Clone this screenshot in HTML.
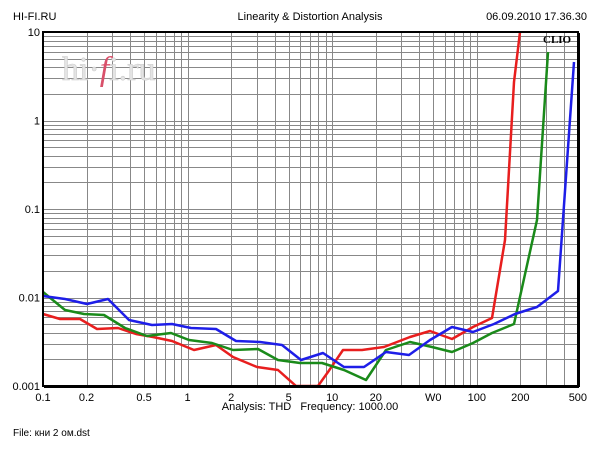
<!DOCTYPE html>
<html><head><meta charset="utf-8"><style>
body{margin:0;background:#fff;width:600px;height:450px;overflow:hidden}
svg{display:block}
text{font-family:"Liberation Sans","DejaVu Sans",sans-serif;font-size:11px;fill:#000}
</style></head><body>
<svg width="600" height="450" viewBox="0 0 600 450">
<g id="grid" stroke="#888" stroke-width="1"></g>
<text x="13" y="20">HI-FI.RU</text>
<text x="310" y="20" text-anchor="middle">Linearity &amp; Distortion Analysis</text>
<text x="587" y="20" text-anchor="end">06.09.2010 17.36.30</text>
<text x="62" y="80" style="font-family:'Liberation Serif',serif;font-size:34px;fill:#e4e4e4;stroke:#ccc;stroke-width:0.6">hi·<tspan style="fill:#d9506a;stroke:none;font-style:italic">f</tspan>i.ru</text>
<g id="labels"></g>
<text x="310" y="410" text-anchor="middle">Analysis: THD &#160; Frequency: 1000.00</text>
<text x="13" y="436" style="font-size:10px">File: кни 2 ом.dst</text>
<text x="543" y="43" style="font-family:'Liberation Serif',serif;font-weight:bold;font-size:11px">CLIO</text>
<g fill="none" stroke-width="2.5" stroke-linejoin="round">
<polyline stroke="#e81e1e" points="43,314 60,319 80,319 97,329 118,328 136,334 153,337 172,341 194,350 216,345 233,357 257,367 278,370 296,386 318,386 328,372 343,350 362,350 384,347 410,337 430,331 452,339 473,327 492,318 505,240 514,82 520,32"/>
<polyline stroke="#1a8a1a" points="43,292 65,310 84,314 104,315 125,328 147,336 171,333 189,340 212,343 233,350 258,349 278,360 300,363 322,363 344,370 366,380 386,350 410,342 432,347 452,352 473,343 492,333 514,324 537,220 548,52"/>
<polyline stroke="#1e1ee8" points="43,296 65,299 87,304 108,299 129,320 152,325 172,324 191,328 216,329 236,341 260,342 282,345 301,360 323,353 344,367 364,367 386,352 409,355 430,340 452,327 473,332 494,324 515,314 537,307 558,291 574,62"/>
</g>
<rect x="43" y="32" width="535" height="354" fill="none" stroke="#000" stroke-width="2"/>
<line x1="579" y1="33" x2="579" y2="387" stroke="#000" stroke-width="2"/>
<line x1="44" y1="387" x2="579" y2="387" stroke="#000" stroke-width="2"/>
</svg>
<script>
var g=document.getElementById('grid'),L=document.getElementById('labels'),ns='http://www.w3.org/2000/svg';
function X(f){return 43+144.6*(Math.log10(f)+1)}
function Y(v){return 32+88.5*(1-Math.log10(v))}
function ln(a,b,c,d){var l=document.createElementNS(ns,'line');l.setAttribute('x1',a);l.setAttribute('y1',b);l.setAttribute('x2',c);l.setAttribute('y2',d);g.appendChild(l)}
function tx(x,y,s,a){var t=document.createElementNS(ns,'text');t.setAttribute('x',x);t.setAttribute('y',y);t.setAttribute('text-anchor',a);t.textContent=s;L.appendChild(t)}
for(var d=0.1;d<1000;d*=10)for(var m=1;m<10;m++){var f=d*m;if(f>500.01)break;var x=Math.round(X(f))+0.5;ln(x,32,x,386)}
for(var d=0.001;d<10;d*=10)for(var m=1;m<10;m++){var y=Math.round(Y(d*m))+0.5;ln(43,y,578,y)}
[[0.1,'0.1'],[0.2,'0.2'],[0.5,'0.5'],[1,'1'],[2,'2'],[5,'5'],[10,'10'],[20,'20'],[50,'W0'],[100,'100'],[200,'200'],[500,'500']].forEach(function(p){tx(X(p[0]),401,p[1],'middle')});
[[10,'10'],[1,'1'],[0.1,'0.1'],[0.01,'0.01'],[0.001,'0.001']].forEach(function(p){tx(40,Y(p[0])+4,p[1],'end')});
</script>
</body></html>
